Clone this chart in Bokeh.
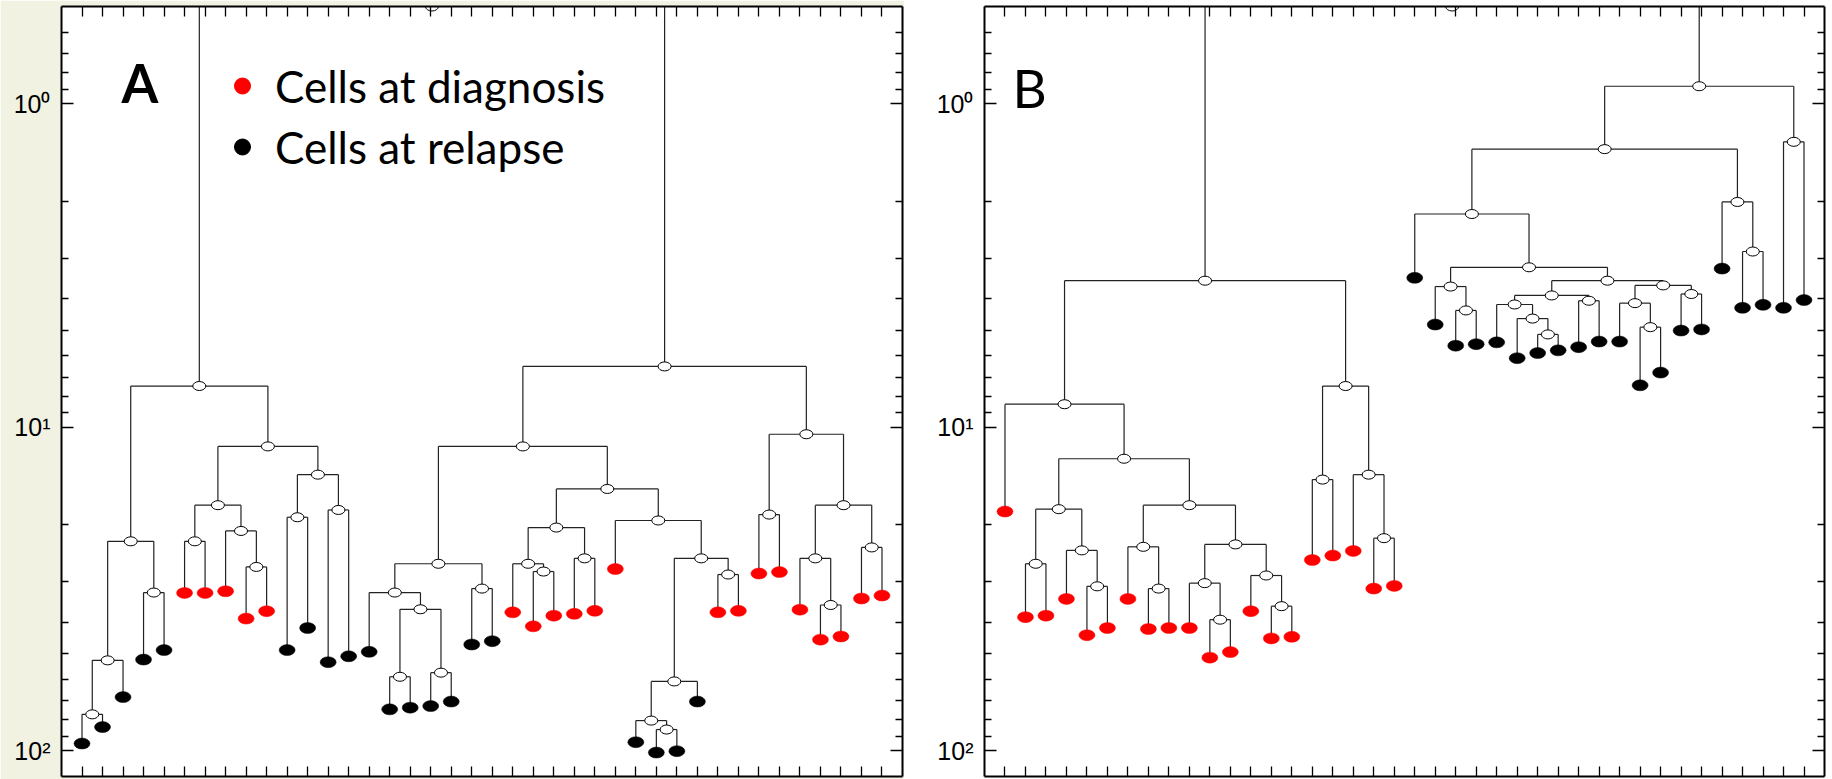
from bokeh.plotting import figure
from bokeh.models import (Range1d, FixedTicker, LinearAxis, LogAxis, Legend,
                          LegendItem, Label, ColumnDataSource, CustomJSTickFormatter)
from bokeh.layouts import row
from bokeh.embed import file_html
from bokeh.resources import INLINE

# ---------------- data ----------------
# Panel A: leaf heights (distance, log axis, inverted) and group of each leaf
a_leaf_height = [94.9, 84.4, 68.2, 52.2, 48.8, 32.5, 32.5, 32.1, 39.0, 37.0,
                 48.8, 41.7, 53.2, 51.0, 49.4, 74.4, 73.5, 72.7, 70.4, 46.9,
                 45.8, 37.3, 41.2, 38.2, 37.7, 36.9, 27.4, 94.0, 101.2, 100.2,
                 70.4, 37.3, 36.9, 28.3, 28.0, 36.6, 45.3, 44.3, 33.8, 33.1]
a_leaf_group = (["relapse"] * 5 + ["diagnosis"] * 5 + ["relapse"] * 11 +
                ["diagnosis"] * 6 + ["relapse"] * 4 + ["diagnosis"] * 9)
# linkage (scipy style: index < 40 is a leaf, otherwise 40 + merge number)
a_merge_left = [0, 40, 3, 41, 5, 8, 7, 44, 10, 12, 48, 47, 43,
                15, 17, 53, 14, 19, 56, 22, 21, 24, 60, 28, 27, 64,
                31, 65, 26, 62, 58, 33, 36, 35, 38, 73, 71, 70, 52]
a_merge_right = [1, 2, 4, 42, 6, 9, 45, 46, 11, 13, 49, 50, 51,
                 16, 18, 54, 55, 20, 57, 23, 59, 25, 61, 29, 63, 30,
                 32, 66, 67, 68, 69, 34, 37, 72, 39, 74, 75, 76, 77]
a_merge_height = [77.1, 52.5, 32.4, 22.5, 22.5, 27.0, 20.9, 17.4, 18.96, 18.0, 14.0, 11.45, 7.45,
                  59.0, 57.3, 36.5, 32.4, 31.5, 26.4, 27.9, 26.4, 25.4, 20.4, 85.9, 80.6, 61.0,
                  28.5, 25.4, 19.4, 15.5, 11.45, 18.6, 35.4, 25.4, 23.5, 17.4, 10.5, 6.48, 0.5]

# Panel B
b_leaf_height = [18.2, 38.6, 38.2, 33.9, 43.9, 41.7, 33.9, 42.0, 41.7, 41.7,
                 51.5, 49.5, 37.0, 44.9, 44.4, 25.7, 24.9, 24.1, 31.5, 30.9,
                 3.45, 4.81, 5.59, 5.53, 5.46, 6.11, 5.89, 5.78, 5.65, 5.43,
                 5.43, 7.41, 6.77, 5.02, 4.98, 3.23, 4.27, 4.18, 4.27, 4.04]
b_leaf_group = ["diagnosis"] * 20 + ["relapse"] * 20
b_merge_left = [1, 4, 3, 40, 7, 6, 10, 9, 13, 12, 47, 45, 43, 0,
                15, 18, 17, 54, 53, 22, 21, 26, 25, 24, 28, 63, 31, 30, 33,
                67, 65, 60, 20, 36, 35, 72, 38, 75, 58]
b_merge_right = [2, 5, 41, 42, 8, 44, 11, 46, 14, 48, 49, 50, 51, 52,
                 16, 19, 55, 56, 57, 23, 59, 27, 61, 62, 29, 64, 32, 66, 34,
                 68, 69, 70, 71, 37, 73, 74, 39, 76, 77]
b_merge_height = [26.4, 31.0, 24.0, 17.9, 31.5, 23.4, 39.3, 30.3, 35.7, 28.7, 23.0, 17.4, 12.5, 8.48,
                  14.5, 22.0, 14.0, 7.45, 3.52, 4.35, 3.67, 5.16, 4.61, 4.17, 4.06, 3.91, 4.90, 4.13, 3.87,
                  3.64, 3.52, 3.20, 2.19, 2.86, 2.01, 1.38, 1.31, 0.882, 0.5]

y_major_ticks = [1, 10, 100]
y_tick_labels = ["10⁰", "10¹", "10²"]
y_minor_ticks = [0.6, 0.7, 0.8, 0.9, 2, 3, 4, 5, 6, 7, 8, 9,
                 20, 30, 40, 50, 60, 70, 80, 90]
legend_labels = ["Cells at diagnosis", "Cells at relapse"]
group_colors = {"diagnosis": "#ff0000", "relapse": "#000000"}
panel_letters = ["A", "B"]

# ---------------- helpers ----------------
FRAME_H = 770
LINE_COLOR = "#222222"


def dendro_layout(leaf_h, ml, mr, mh):
    n = len(leaf_h)
    xs = [float(i) for i in range(n)]
    hs = list(leaf_h)
    for l, r, h in zip(ml, mr, mh):
        xs.append((xs[l] + xs[r]) / 2.0)
        hs.append(h)
    x0, y0, x1, y1 = [], [], [], []
    for l, r, h in zip(ml, mr, mh):
        for c in (l, r):
            x0.append(xs[c]); y0.append(hs[c]); x1.append(xs[c]); y1.append(h)
        x0.append(xs[l]); y0.append(h); x1.append(xs[r]); y1.append(h)
    segs = dict(x0=x0, y0=y0, x1=x1, y1=y1)
    nodes = dict(x=xs[n:], y=hs[n:])
    leaves = dict(x=xs[:n], y=hs[:n])
    return segs, nodes, leaves


def blank_labels(ax):
    ax.formatter = CustomJSTickFormatter(code="return ''")
    ax.major_label_text_font_size = "1px"
    ax.major_label_standoff = 0


def style_x_axis(ax, n):
    ax.ticker = FixedTicker(ticks=list(range(n)), minor_ticks=[])
    ax.major_tick_in = 10
    ax.major_tick_out = 0
    ax.minor_tick_in = 0
    ax.minor_tick_out = 0
    ax.major_tick_line_color = "black"
    ax.major_tick_line_width = 1.3
    ax.axis_line_color = "black"
    ax.axis_line_width = 2
    blank_labels(ax)


def style_y_axis(ax, labels):
    ax.ticker = FixedTicker(ticks=y_major_ticks, minor_ticks=y_minor_ticks)
    ax.major_tick_in = 12
    ax.major_tick_out = 0
    ax.minor_tick_in = 7
    ax.minor_tick_out = 0
    ax.major_tick_line_color = "black"
    ax.minor_tick_line_color = "black"
    ax.major_tick_line_width = 1.3
    ax.minor_tick_line_width = 1.3
    ax.axis_line_color = "black"
    ax.axis_line_width = 2
    if labels:
        ax.formatter = CustomJSTickFormatter(
            args=dict(major_vals=y_major_ticks, major_texts=y_tick_labels),
            code=("for (let k = 0; k < major_vals.length; k++) {"
                  "  if (Math.abs(major_vals[k] - tick) < 1e-6 * major_vals[k]) return major_texts[k];"
                  "} return '';"))
        ax.major_label_text_font = "Liberation Sans"
        ax.major_label_text_font_size = "25px"
        ax.major_label_text_color = "black"
        ax.major_label_standoff = 11
    else:
        blank_labels(ax)


def make_panel(leaf_h, leaf_group, ml, mr, mh, frame_w, left_border, right_border,
               border_fill, letter, letter_pos, letter_weight, with_legend):
    n = len(leaf_h)
    p = figure(frame_width=frame_w, frame_height=FRAME_H,
               x_range=Range1d(-1, n), y_range=Range1d(120, 0.5),
               y_axis_type="log", output_backend="svg", toolbar_location=None,
               min_border_left=left_border, min_border_right=right_border,
               min_border_top=6, min_border_bottom=3,
               background_fill_color="white", border_fill_color=border_fill)
    p.outline_line_color = None
    p.xgrid.visible = False
    p.ygrid.visible = False

    style_x_axis(p.xaxis[0], n)
    style_y_axis(p.yaxis[0], True)
    top = LinearAxis()
    style_x_axis(top, n)
    p.add_layout(top, "above")
    right = LogAxis()
    style_y_axis(right, False)
    p.add_layout(right, "right")

    segs, nodes, leaves = dendro_layout(leaf_h, ml, mr, mh)
    p.segment(x0="x0", y0="y0", x1="x1", y1="y1", source=ColumnDataSource(segs),
              line_color=LINE_COLOR, line_width=1.2)
    leaves["color"] = [group_colors[g] for g in leaf_group]
    p.ellipse(x="x", y="y", width=16, height=11, width_units="screen",
              height_units="screen", source=ColumnDataSource(leaves),
              fill_color="color", line_color="color", line_width=0.5)
    p.ellipse(x="x", y="y", width=13, height=9, width_units="screen",
              height_units="screen", source=ColumnDataSource(nodes),
              fill_color="white", line_color="black", line_width=1)

    p.add_layout(Label(x=letter_pos[0], y=letter_pos[1], x_units="screen",
                       y_units="screen", text=letter, text_font="Lato",
                       text_font_size="53px", text_font_style=letter_weight,
                       text_color="black", text_baseline="alphabetic"))

    if with_legend:
        r_d = p.scatter(x=[float("nan")], y=[float("nan")], marker="circle",
                        color=group_colors["diagnosis"])
        r_r = p.scatter(x=[float("nan")], y=[float("nan")], marker="circle",
                        color=group_colors["relapse"])
        leg = Legend(items=[LegendItem(label=legend_labels[0], renderers=[r_d]),
                            LegendItem(label=legend_labels[1], renderers=[r_r])],
                     location=(161, 603), border_line_color=None,
                     background_fill_alpha=0, label_text_font="Lato",
                     label_text_font_size="44px", label_text_color="black",
                     glyph_width=40, glyph_height=53, label_standoff=13,
                     spacing=8, padding=0, margin=0)
        p.add_layout(leg, "center")
    return p


pA = make_panel(a_leaf_height, a_leaf_group, a_merge_left, a_merge_right,
                a_merge_height, 841, 61, 2, "#f2f2e3", panel_letters[0], (60, 694),
                "bold", True)
pB = make_panel(b_leaf_height, b_leaf_group, b_merge_left, b_merge_right,
                b_merge_height, 840, 80, 8, "white", panel_letters[1], (28, 689),
                "normal", False)

layout = row(pA, pB)
open("out.html", "w").write(file_html(layout, INLINE))
